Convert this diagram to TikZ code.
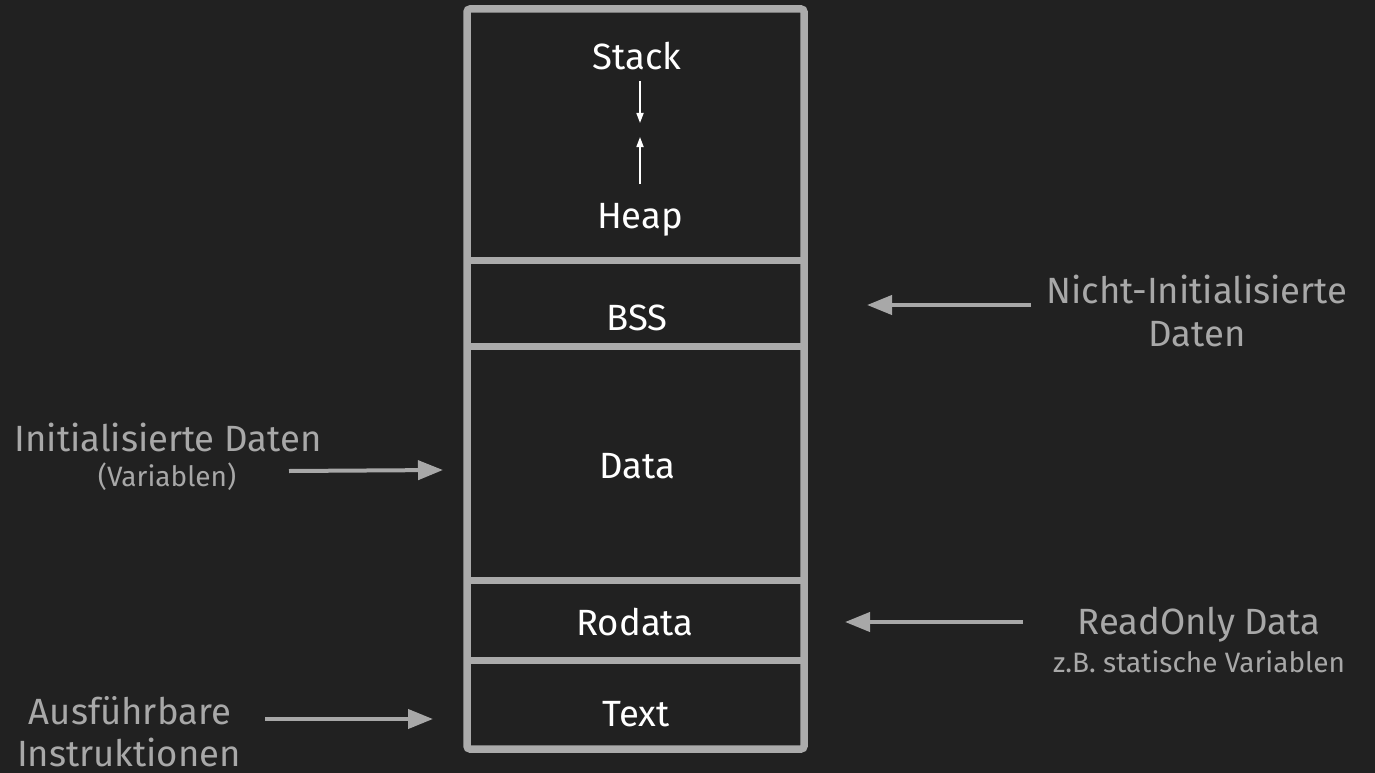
\documentclass[tikz,border=0pt]{standalone}
\usepackage{fontspec}
\setmainfont{Fira Sans}
\usetikzlibrary{arrows.meta}
\definecolor{bg}{HTML}{212121}
\definecolor{frame}{HTML}{ABABAB}
\definecolor{label}{HTML}{A8A8A8}
\tikzset{
  seg/.style={anchor=base, inner sep=0pt, text=white, font=\fontsize{36.5}{42}\selectfont},
  side/.style={anchor=base, inner sep=0pt, text=label, font=\fontsize{36.5}{42}\selectfont},
  sidesmall/.style={anchor=base, inner sep=0pt, text=label, font=\fontsize{28}{32}\selectfont},
  pointer/.style={draw=label, line width=4pt, -{Triangle[length=25pt,width=19pt]}},
  growth/.style={draw=white, line width=1.6pt, -{Triangle[length=10pt,width=7pt]}},
  divider/.style={draw=frame, line width=7pt},
}
\begin{document}
\begin{tikzpicture}[x=1pt,y=-1pt]
  \fill[bg] (0,0) rectangle (1375,773);
  \useasboundingbox (0,0) rectangle (1375,773);

  % memory layout column
  \draw[frame, line width=7.5pt, rounded corners=3pt] (467,9) rectangle (804,749);
  \draw[divider] (467,260) -- (804,260);
  \draw[divider] (467,346) -- (804,346);
  \draw[divider] (467,580) -- (804,580);
  \draw[divider] (467,660) -- (804,660);

  % segment names
  \node[seg] (stack) at (637,70) {Stack};
  \node[seg] (heap) at (640,228) {Heap};
  \node[seg] (bss) at (637,330) {BSS};
  \node[seg] (data) at (637,478) {Data};
  \node[seg] (rodata) at (635,635) {Rodata};
  \node[seg] (text) at (636,726) {Text};

  % stack and heap grow towards each other
  \coordinate (stackFrom) at (640,81);
  \coordinate (stackTip) at (640,123);
  \coordinate (heapFrom) at (640,184);
  \coordinate (heapTip) at (640,137);
  \draw[growth] (stackFrom) -- (stackTip);
  \draw[growth] (heapFrom) -- (heapTip);

  % annotations
  \node[side] (init) at (168,451) {Initialisierte Daten};
  \node[sidesmall] (vars) at (167,486) {(Variablen)};
  \node[side] (uninit) at (1197,303) {Nicht-Initialisierte};
  \node[side] (uninit2) at (1197,346) {Daten};
  \node[side] (ro) at (1199,634) {ReadOnly Data};
  \node[sidesmall] (ro2) at (1199,672) {z.B. statische Variablen};
  \node[side] (exec) at (130,724) {Ausführbare};
  \node[side] (exec2) at (129,766) {Instruktionen};

  \coordinate (initFrom) at (289,471);
  \coordinate (dataIn) at (443,470);
  \coordinate (uninitFrom) at (1031,305);
  \coordinate (bssIn) at (867,305);
  \coordinate (roFrom) at (1023,622);
  \coordinate (rodataIn) at (845,622);
  \coordinate (execFrom) at (265,719);
  \coordinate (textIn) at (433,719);

  \draw[pointer] (initFrom) -- (dataIn);
  \draw[pointer] (uninitFrom) -- (bssIn);
  \draw[pointer] (roFrom) -- (rodataIn);
  \draw[pointer] (execFrom) -- (textIn);
\end{tikzpicture}
\end{document}
